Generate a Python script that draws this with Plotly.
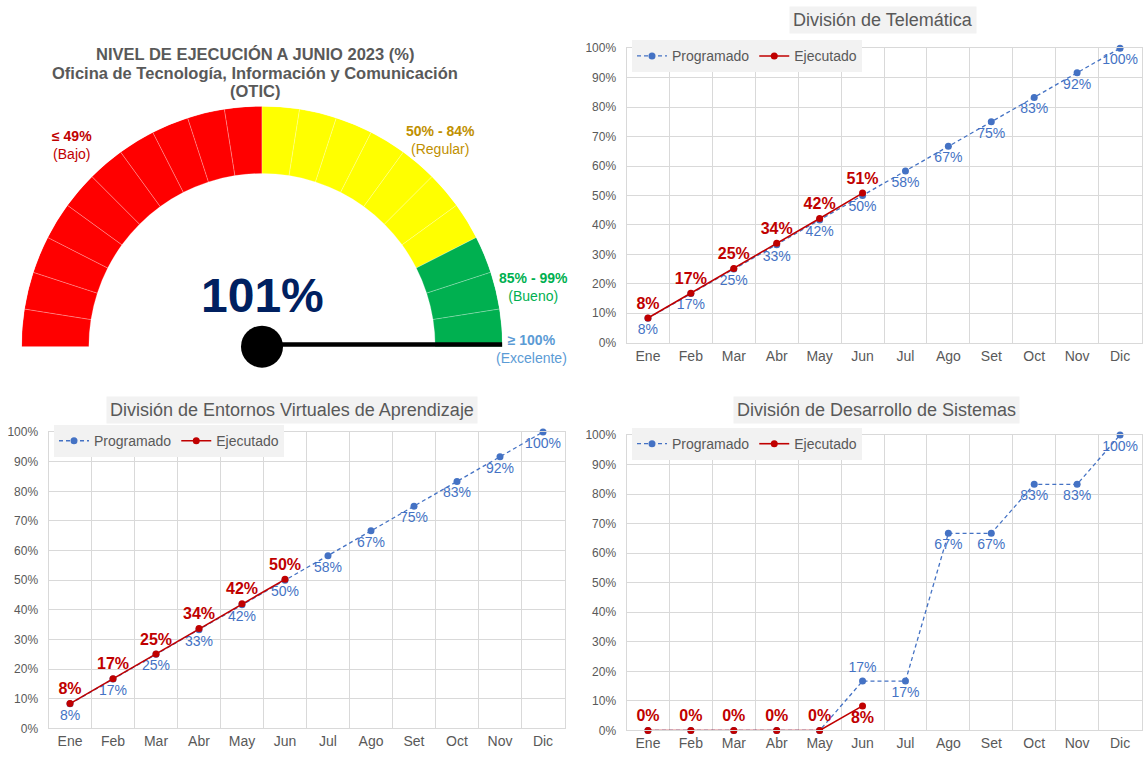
import plotly.graph_objects as go

# ---------------- data ----------------
months = ["Ene", "Feb", "Mar", "Abr", "May", "Jun", "Jul", "Ago", "Set", "Oct", "Nov", "Dic"]

tele_prog = [0.083, 0.167, 0.25, 0.333, 0.417, 0.5, 0.583, 0.667, 0.75, 0.833, 0.917, 1.0]
tele_ejec = [0.084, 0.168, 0.252, 0.338, 0.422, 0.508]

evea_prog = [0.083, 0.167, 0.25, 0.333, 0.417, 0.5, 0.583, 0.667, 0.75, 0.833, 0.917, 1.0]
evea_ejec = [0.084, 0.168, 0.251, 0.337, 0.421, 0.503]

dds_prog = [0.0, 0.0, 0.0, 0.0, 0.0, 0.167, 0.167, 0.667, 0.667, 0.833, 0.833, 1.0]
dds_ejec = [0.0, 0.0, 0.0, 0.0, 0.0, 0.083]

gauge_value = 101  # %
band_limits = [0, 50, 85, 100]
band_colors = ["#FF0000", "#FFFF00", "#00B050"]
segment_step = 5

gauge_title_lines = ["NIVEL DE EJECUCIÓN A JUNIO 2023 (%)",
                     "Oficina de Tecnología, Información y Comunicación",
                     "(OTIC)"]

PROG_COLOR = "#4472C4"
EJEC_COLOR = "#C00000"
GRAY = "#595959"
GRID = "#D9D9D9"
FONT = "Arial, Liberation Sans, sans-serif"

W, H = 1146, 761


def px(x):
    return x / W


def py(y):
    return 1 - y / H


fig = go.Figure()

# ---------------- gauge ----------------
seg_theta, seg_color = [], []
for v in range(0, 100, segment_step):
    for i in range(3):
        if band_limits[i] <= v < band_limits[i + 1]:
            col = band_colors[i]
    seg_theta.append(180 - 1.8 * (v + segment_step / 2))
    seg_color.append(col)

fig.add_trace(go.Barpolar(
    theta=seg_theta, r=[0.28] * len(seg_theta), base=0.72, width=1.8 * segment_step,
    marker=dict(color=seg_color, line=dict(color="rgba(255,255,255,0.35)", width=0.7)),
    subplot="polar", showlegend=False, hoverinfo="skip"))

needle_theta = 180 - 1.8 * min(gauge_value, 100)
fig.add_trace(go.Scatterpolar(
    r=[0, 1], theta=[needle_theta, needle_theta], mode="lines",
    line=dict(color="black", width=9), subplot="polar", showlegend=False,
    cliponaxis=False, hoverinfo="skip"))
fig.add_trace(go.Scatterpolar(
    r=[0], theta=[needle_theta], mode="markers",
    marker=dict(color="black", size=42), subplot="polar", showlegend=False,
    cliponaxis=False, hoverinfo="skip"))

fig.update_layout(polar=dict(
    domain=dict(x=[px(18), px(506)], y=[py(346), py(101)]),
    sector=[0, 180], bgcolor="rgba(0,0,0,0)",
    radialaxis=dict(range=[0, 1], visible=False),
    angularaxis=dict(visible=False),
))

# ---------------- line charts ----------------
charts = [
    dict(title="División de Telemática", prog=tele_prog, ejec=tele_ejec,
         prog_pos=["bottom center"] * 12, ejec_pos=["top center"] * 6,
         hide_prog=[], xa="x", ya="y", leg="legend",
         xd=[px(626.5), px(1141.5)], yd=[py(342), py(42)],
         title_xy=(883, 13), leg_xy=(632, 34)),
    dict(title="División de Entornos Virtuales de Aprendizaje", prog=evea_prog, ejec=evea_ejec,
         prog_pos=["bottom center"] * 12, ejec_pos=["top center"] * 6,
         hide_prog=[], xa="x2", ya="y2", leg="legend2",
         xd=[px(48.5), px(564.5)], yd=[py(735), py(433)],
         title_xy=(292, 411), leg_xy=(54, 426)),
    dict(title="División de Desarrollo de Sistemas", prog=dds_prog, ejec=dds_ejec,
         prog_pos=["bottom center"] * 5 + ["top center"] + ["bottom center"] * 6,
         ejec_pos=["top center"] * 5 + ["bottom center"],
         hide_prog=[0, 1, 2, 3, 4], xa="x3", ya="y3", leg="legend3",
         xd=[px(626.5), px(1141.5)], yd=[py(737), py(436)],
         title_xy=(876, 411), leg_xy=(632, 429)),
]

annotations = []
for idx, c in enumerate(charts):
    prog_text = ["" if i in c["hide_prog"] else f"{v:.0%}" for i, v in enumerate(c["prog"])]
    ejec_text = [f"<b>{v:.0%}</b>" for v in c["ejec"]]
    fig.add_trace(go.Scatter(
        x=months, y=c["prog"], mode="lines+markers+text", name="Programado",
        line=dict(color=PROG_COLOR, width=1.3, dash="4px,3px"),
        marker=dict(color=PROG_COLOR, size=7),
        text=prog_text, textposition=c["prog_pos"],
        textfont=dict(color=PROG_COLOR, size=14, family=FONT),
        xaxis=c["xa"], yaxis=c["ya"], legend=c["leg"], cliponaxis=False))
    fig.add_trace(go.Scatter(
        x=months[:len(c["ejec"])], y=c["ejec"], mode="lines+markers+text", name="Ejecutado",
        line=dict(color=EJEC_COLOR, width=1.6),
        marker=dict(color=EJEC_COLOR, size=7),
        text=ejec_text, textposition=c["ejec_pos"],
        textfont=dict(color=EJEC_COLOR, size=16, family=FONT),
        xaxis=c["xa"], yaxis=c["ya"], legend=c["leg"], cliponaxis=False))

    axname_x = "xaxis" if idx == 0 else f"xaxis{idx + 1}"
    axname_y = "yaxis" if idx == 0 else f"yaxis{idx + 1}"
    fig.update_layout({
        axname_x: dict(domain=c["xd"], anchor=c["ya"], type="category",
                       range=[-0.5, 11.5], tickson="boundaries", ticks="",
                       showgrid=True, gridcolor=GRID, gridwidth=1,
                       showline=True, linecolor=GRID, mirror=True,
                       tickfont=dict(size=14, color=GRAY, family=FONT)),
        axname_y: dict(domain=c["yd"], anchor=c["xa"], range=[0, 1], dtick=0.1,
                       tickformat=".0%", showgrid=True, gridcolor=GRID, gridwidth=1,
                       zeroline=False, showline=True, linecolor=GRID, mirror=True,
                       ticks="", ticklabelstandoff=7,
                       tickfont=dict(size=12, color=GRAY, family=FONT)),
        c["leg"]: dict(x=px(c["leg_xy"][0]), y=py(c["leg_xy"][1]), xanchor="left", yanchor="top",
                       orientation="h", bgcolor="#F2F2F2",
                       font=dict(size=14, color=GRAY, family=FONT),
                       itemwidth=30, tracegroupgap=0),
    })
    annotations.append(dict(
        text=c["title"], x=px(c["title_xy"][0]), y=py(c["title_xy"][1]),
        xref="paper", yref="paper", showarrow=False, xanchor="center", yanchor="middle",
        bgcolor="#F2F2F2", borderpad=3,
        font=dict(size=18, color=GRAY, family=FONT)))

# ---------------- gauge texts ----------------
for line, yy in zip(gauge_title_lines, [48, 67, 86]):
    annotations.append(dict(text=f"<b>{line}</b>", x=px(255), y=py(yy),
                            font=dict(size=16.5, color=GRAY, family=FONT)))
annotations += [
    dict(text=f"<b>{gauge_value}%</b>", x=px(262), y=py(294),
         font=dict(size=48, color="#002060", family=FONT)),
    dict(text="<b>≤ 49%</b><br>(Bajo)", x=px(72), y=py(141),
         font=dict(size=14, color=EJEC_COLOR, family=FONT)),
    dict(text="<b>50% - 84%</b><br>(Regular)", x=px(440), y=py(135),
         font=dict(size=14, color="#BF9000", family=FONT)),
    dict(text="<b>85% - 99%</b><br>(Bueno)", x=px(533), y=py(285),
         font=dict(size=14, color="#00B050", family=FONT)),
    dict(text="<b>≥ 100%</b><br>(Excelente)", x=px(531), y=py(348),
         font=dict(size=14, color="#5B9BD5", family=FONT)),
]
for a in annotations[3:]:
    a.update(xref="paper", yref="paper", showarrow=False, xanchor="center", yanchor="middle")

fig.update_layout(
    width=W, height=H, margin=dict(l=0, r=0, t=0, b=0),
    paper_bgcolor="white", plot_bgcolor="white",
    font=dict(family=FONT, color=GRAY),
    annotations=annotations,
)

fig.write_html("out.html", config={"displayModeBar": False},
               post_script="document.body.style.margin='0';document.body.style.overflow='hidden';")
